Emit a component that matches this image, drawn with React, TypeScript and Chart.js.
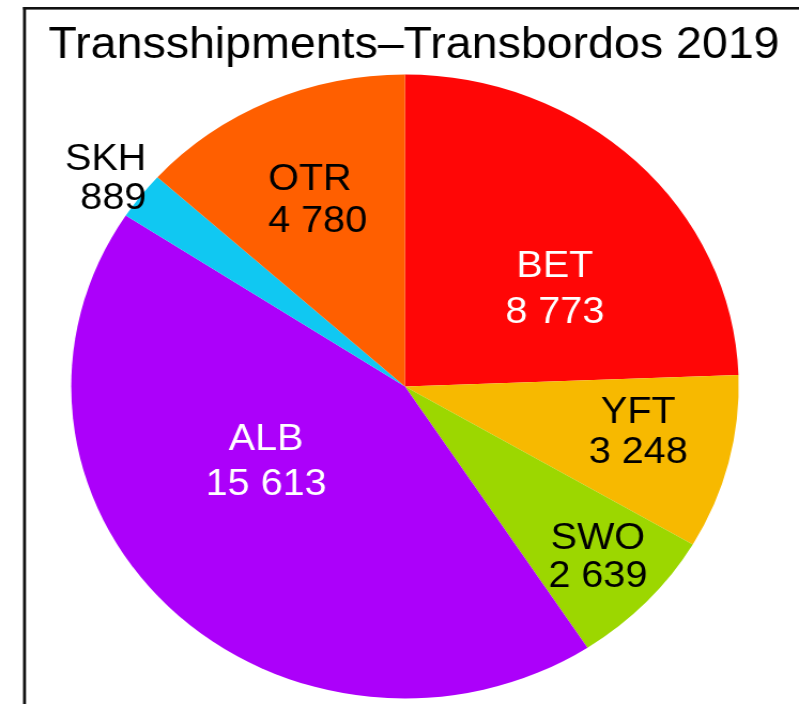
import React, { useEffect, useRef } from "react";
import { Chart, ArcElement, PieController } from "chart.js";

Chart.register(PieController, ArcElement);

// ---- data ----
const TITLE = "Transshipments–Transbordos 2019";
const species = ["BET", "YFT", "SWO", "ALB", "SKH", "OTR"];
const tonnes = [8773, 3248, 2639, 15613, 889, 4780];
const sliceColors = ["#FF0606", "#F7B900", "#9CD700", "#AC00FA", "#10C8F2", "#FF5F00"];
const labelColors = ["#FFFFFF", "#000000", "#000000", "#FFFFFF", "#000000", "#000000"];

// ---- layout ----
const DISPLAY_W = 799;
const DISPLAY_H = 704;
const CANVAS_W = 747; // drawn narrower, then stretched horizontally like the reference
const SX = DISPLAY_W / CANVAS_W;
const FONT = '"Liberation Sans", Arial, Helvetica, sans-serif';
const LABEL_SIZE = 37;
const TITLE_SIZE = 43.5;
// label block anchor relative to pie centre, in units of the radius
const labelAnchors: [number, number][] = [
  [0.449, -0.32],
  [0.699, 0.139],
  [0.578, 0.539],
  [-0.416, 0.234],
  [-0.775, -0.674],
  [-0.41, -0.606],
];
const labelGaps = [46.7, 40, 37.5, 45, 39, 42];
const labelAligns: CanvasTextAlign[] = ["center", "center", "center", "center", "right", "left"];

const fmt = (v: number) => String(v).replace(/\B(?=(\d{3})+(?!\d))/g, " ");

const decorPlugin = {
  id: "decor",
  afterDraw(chart: any) {
    const ctx: CanvasRenderingContext2D = chart.ctx;
    ctx.save();
    // frame
    ctx.fillStyle = "#111111";
    ctx.fillRect(23 / SX, 7, 3 / SX, DISPLAY_H);
    ctx.fillRect(23 / SX, 7, CANVAS_W, 2.6);
    // title
    ctx.fillStyle = "#000000";
    ctx.font = `${TITLE_SIZE}px ${FONT}`;
    ctx.textAlign = "center";
    ctx.textBaseline = "alphabetic";
    ctx.fillText(TITLE, 414 / SX, 58);
    // slice labels
    const meta = chart.getDatasetMeta(0);
    ctx.font = `${LABEL_SIZE}px ${FONT}`;
    const capHalf = (LABEL_SIZE * 0.716) / 2;
    meta.data.forEach((arc: any, i: number) => {
      const { x, y, outerRadius } = arc.getProps(["x", "y", "outerRadius"], true);
      const px = x + labelAnchors[i][0] * outerRadius;
      const py = y + labelAnchors[i][1] * outerRadius;
      const g = labelGaps[i] / 2;
      ctx.fillStyle = labelColors[i];
      ctx.textAlign = labelAligns[i];
      ctx.fillText(species[i], px, py - g + capHalf);
      ctx.fillText(fmt(tonnes[i]), px, py + g + capHalf);
    });
    ctx.restore();
  },
};

export default function App() {
  const ref = useRef<HTMLCanvasElement>(null);
  useEffect(() => {
    if (!ref.current) return;
    const chart = new Chart(ref.current, {
      type: "pie",
      data: {
        labels: species,
        datasets: [
          {
            data: tonnes,
            backgroundColor: sliceColors,
            borderWidth: 0,
          },
        ],
      },
      options: {
        responsive: false,
        animation: false,
        devicePixelRatio: 1,
        events: [],
        rotation: 0,
        layout: {
          padding: { top: 74.5, bottom: 5.5, left: 66.6, right: 56.4 },
        },
        plugins: {
          legend: { display: false },
          tooltip: { enabled: false },
        },
      } as any,
      plugins: [decorPlugin],
    });
    return () => chart.destroy();
  }, []);
  return (
    <div
      style={{
        position: "absolute",
        left: 0,
        top: 0,
        width: DISPLAY_W,
        height: DISPLAY_H,
        overflow: "hidden",
        background: "#ffffff",
      }}
    >
      <canvas
        ref={ref}
        width={CANVAS_W}
        height={DISPLAY_H}
        style={{ width: `${DISPLAY_W}px`, height: `${DISPLAY_H}px`, display: "block" }}
      />
    </div>
  );
}
